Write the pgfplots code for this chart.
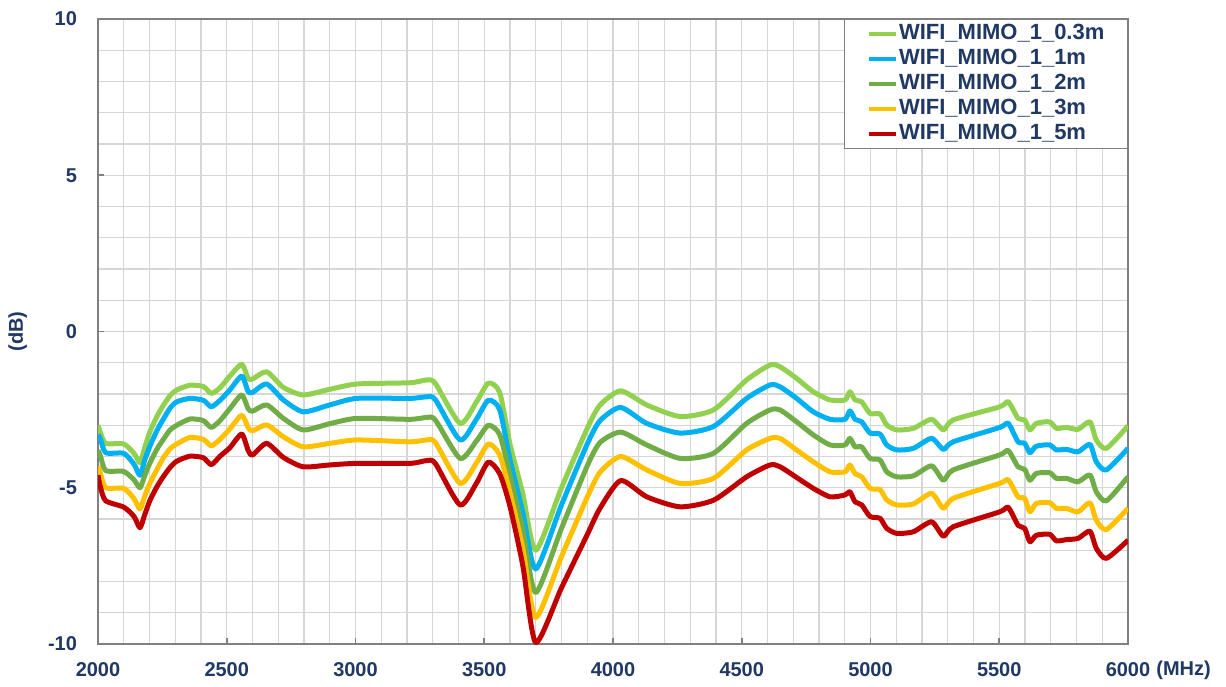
\documentclass[border=0pt]{standalone}
\usepackage{fontspec}
\setmainfont{Liberation Sans}
\usepackage{pgfplots}
\usepackage{pgfplotstable}
\pgfplotsset{compat=1.18}
\definecolor{cA}{RGB}{146,208,80}
\definecolor{cB}{RGB}{0,176,240}
\definecolor{cC}{RGB}{112,173,71}
\definecolor{cD}{RGB}{255,192,0}
\definecolor{cE}{RGB}{192,0,0}
\definecolor{txtblue}{RGB}{31,56,100}
\definecolor{gridgray}{RGB}{214,214,214}
\definecolor{axgray}{RGB}{128,128,128}

\pgfplotstableread{
x L B G Y R
2000 -3.00 -3.30 -3.80 -4.30 -4.60
2010 -3.25 -3.45 -4.00 -4.55 -5.00
2030 -3.58 -3.88 -4.45 -5.00 -5.42
2100 -3.60 -3.90 -4.48 -5.02 -5.62
2140 -3.90 -4.25 -4.75 -5.35 -5.92
2163 -4.20 -4.60 -5.00 -5.68 -6.28
2182 -3.70 -4.10 -4.60 -5.25 -5.85
2202 -3.20 -3.66 -4.20 -4.85 -5.40
2230 -2.70 -3.15 -3.75 -4.40 -4.95
2254 -2.36 -2.80 -3.45 -4.04 -4.64
2280 -2.05 -2.45 -3.15 -3.75 -4.35
2306 -1.87 -2.25 -3.00 -3.60 -4.15
2357 -1.72 -2.14 -2.80 -3.39 -3.99
2409 -1.76 -2.20 -2.85 -3.45 -4.04
2440 -1.98 -2.41 -3.07 -3.66 -4.26
2474 -1.80 -2.20 -2.85 -3.45 -3.99
2512 -1.43 -1.87 -2.47 -3.12 -3.72
2558 -1.05 -1.43 -2.03 -2.68 -3.28
2583 -1.50 -1.92 -2.47 -3.07 -3.80
2600 -1.52 -1.95 -2.55 -3.18 -3.95
2655 -1.29 -1.68 -2.35 -2.99 -3.58
2720 -1.79 -2.19 -2.78 -3.37 -4.03
2797 -2.03 -2.57 -3.15 -3.69 -4.33
2900 -1.85 -2.35 -2.95 -3.58 -4.27
3005 -1.68 -2.14 -2.78 -3.47 -4.22
3212 -1.64 -2.14 -2.81 -3.53 -4.22
3277 -1.55 -2.09 -2.75 -3.47 -4.13
3310 -1.66 -2.18 -2.83 -3.55 -4.22
3406 -2.94 -3.47 -4.06 -4.86 -5.55
3470 -2.25 -2.80 -3.50 -4.20 -4.85
3516 -1.65 -2.20 -3.00 -3.60 -4.18
3560 -1.95 -2.50 -3.30 -3.95 -4.55
3600 -3.60 -4.10 -4.60 -5.15 -5.60
3650 -5.20 -5.80 -6.35 -6.95 -7.50
3700 -7.00 -7.60 -8.35 -9.15 -9.95
3800 -5.00 -5.55 -6.30 -7.20 -8.20
3900 -3.10 -3.60 -4.30 -5.30 -6.50
3950 -2.35 -2.85 -3.55 -4.50 -5.65
4030 -1.90 -2.43 -3.22 -4.00 -4.77
4131 -2.35 -2.94 -3.63 -4.43 -5.29
4260 -2.72 -3.25 -4.06 -4.86 -5.61
4390 -2.51 -3.04 -3.90 -4.70 -5.40
4519 -1.55 -2.14 -2.94 -3.79 -4.65
4610 -1.07 -1.71 -2.51 -3.42 -4.27
4649 -1.13 -1.77 -2.51 -3.42 -4.33
4713 -1.50 -2.14 -2.89 -3.79 -4.67
4778 -1.93 -2.57 -3.31 -4.17 -5.02
4843 -2.19 -2.81 -3.63 -4.49 -5.29
4901 -2.19 -2.81 -3.63 -4.49 -5.23
4920 -1.93 -2.54 -3.42 -4.27 -5.13
4940 -2.19 -2.81 -3.69 -4.55 -5.45
4966 -2.25 -2.89 -3.69 -4.65 -5.55
4998 -2.62 -3.25 -4.06 -5.02 -5.92
5037 -2.64 -3.28 -4.11 -5.06 -5.98
5063 -2.99 -3.63 -4.49 -5.39 -6.30
5102 -3.15 -3.79 -4.65 -5.55 -6.46
5166 -3.10 -3.74 -4.62 -5.52 -6.41
5237 -2.81 -3.42 -4.30 -5.18 -6.09
5283 -3.15 -3.77 -4.76 -5.66 -6.55
5321 -2.83 -3.53 -4.43 -5.34 -6.25
5502 -2.41 -3.07 -3.95 -4.86 -5.77
5535 -2.25 -2.94 -3.81 -4.75 -5.63
5573 -2.78 -3.53 -4.33 -5.29 -6.20
5599 -2.83 -3.58 -4.41 -5.34 -6.30
5619 -3.15 -3.88 -4.76 -5.77 -6.73
5644 -2.94 -3.67 -4.54 -5.50 -6.52
5696 -2.89 -3.63 -4.52 -5.48 -6.49
5722 -3.10 -3.79 -4.70 -5.66 -6.70
5761 -3.07 -3.77 -4.70 -5.66 -6.66
5806 -3.13 -3.85 -4.81 -5.77 -6.62
5852 -2.89 -3.61 -4.59 -5.48 -6.39
5877 -3.47 -4.17 -5.13 -6.04 -6.94
5916 -3.74 -4.43 -5.42 -6.34 -7.26
6000 -3.02 -3.74 -4.65 -5.66 -6.68
}\datatable

\begin{document}
\begin{tikzpicture}
\path[use as bounding box] (-49pt,-21pt) rectangle (564pt,322pt);
\begin{axis}[
  scale only axis, width=515pt, height=312.5pt,
  xmin=2000, xmax=6000, ymin=-10, ymax=10,
  xtick={2000,2500,...,6000}, ytick={-10,-5,0,5,10},
  minor xtick={2000,2100,...,6000}, minor ytick={-10,-9,...,10},
  grid=minor,
  every axis grid/.style={draw=gridgray, line width=0.6pt},
  every minor grid/.style={draw=gridgray, line width=0.6pt},
  axis line style={draw=axgray, line width=0.9pt},
  tick align=inside, major tick length=3pt, minor tick length=0pt,
  xtick pos=bottom, ytick pos=left,
  major tick style={draw=axgray, line width=0.8pt},
  /pgf/number format/assume math mode=true,
  /pgf/number format/1000 sep={},
  ticklabel style={font=\color{txtblue}\bfseries\fontsize{10}{12}\selectfont},
  xticklabel style={yshift=-5.5pt},
  yticklabel style={xshift=-7pt},
  xlabel={(MHz)}, ylabel={(dB)},
  every axis x label/.style={at={(axis description cs:1.054,-0.042)}, anchor=center, font=\color{txtblue}\bfseries\fontsize{10}{12}\selectfont},
  every axis y label/.style={at={(axis description cs:-0.078,0.5)}, anchor=center, rotate=90, font=\color{txtblue}\bfseries\fontsize{10}{12}\selectfont},
  legend style={at={(1,1)}, anchor=north east, draw=axgray, line width=0.6pt, fill=white,
    font=\color{txtblue}\bfseries\fontsize{11}{12.5}\selectfont,
    inner xsep=11pt, inner ysep=1pt, row sep=0pt,
    nodes={inner xsep=0.5pt, inner ysep=0pt, text height=9pt, text depth=3.5pt}},
  legend cell align=left,
  legend image code/.code={\draw[#1, line width=2.2pt] (0pt,0pt) -- (13.5pt,0pt);},
]
\addplot[color=cA, line width=2.5pt, smooth, tension=0.4, line join=round] table[x=x,y=L]{\datatable};
\addlegendentry{WIFI\_MIMO\_1\_0.3m}
\addplot[color=cB, line width=2.5pt, smooth, tension=0.4, line join=round] table[x=x,y=B]{\datatable};
\addlegendentry{WIFI\_MIMO\_1\_1m}
\addplot[color=cC, line width=2.5pt, smooth, tension=0.4, line join=round] table[x=x,y=G]{\datatable};
\addlegendentry{WIFI\_MIMO\_1\_2m}
\addplot[color=cD, line width=2.5pt, smooth, tension=0.4, line join=round] table[x=x,y=Y]{\datatable};
\addlegendentry{WIFI\_MIMO\_1\_3m}
\addplot[color=cE, line width=2.5pt, smooth, tension=0.4, line join=round] table[x=x,y=R]{\datatable};
\addlegendentry{WIFI\_MIMO\_1\_5m}
\end{axis}
\end{tikzpicture}
\end{document}
